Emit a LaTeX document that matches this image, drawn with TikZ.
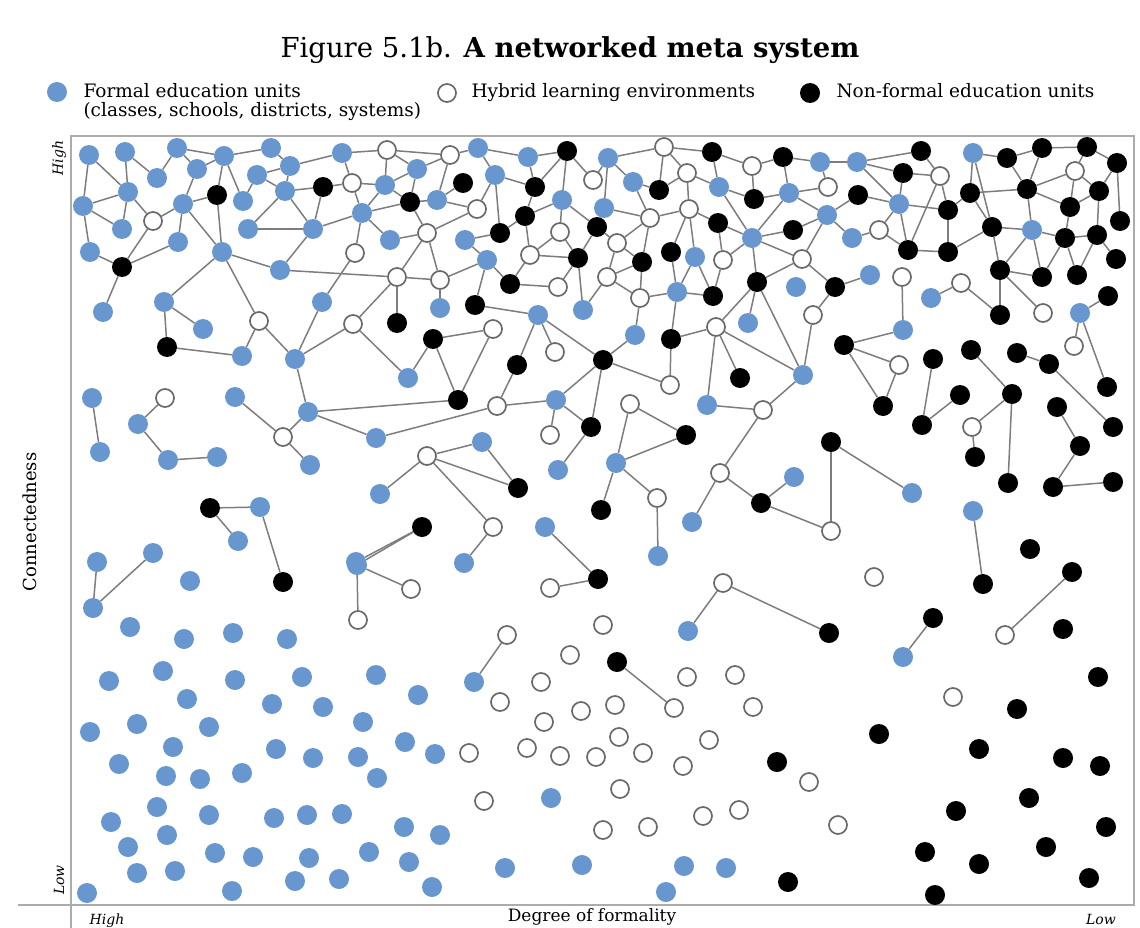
\documentclass[tikz,border=0pt]{standalone}
\usepackage{fontspec}
\setmainfont{DejaVu Serif}
\definecolor{dotblue}{RGB}{104,151,207}
\definecolor{edgegray}{RGB}{125,125,125}
\definecolor{ringgray}{RGB}{105,105,105}
\definecolor{framegray}{RGB}{172,172,172}
\begin{document}
\begin{tikzpicture}[x=1pt,y=-1pt,
  bdot/.style={circle,fill=dotblue,minimum size=20pt,inner sep=0pt},
  kdot/.style={circle,fill=black,minimum size=20pt,inner sep=0pt},
  odot/.style={circle,draw=ringgray,line width=1.7pt,fill=white,minimum size=18pt,inner sep=0pt},
  link/.style={draw=edgegray,line width=1.5pt},
  frame/.style={draw=framegray,line width=1.6pt},
  lgtext/.style={anchor=base west,font=\fontsize{18.5}{21}\selectfont},
  axlab/.style={font=\fontsize{14}{16}\selectfont\itshape}]
\useasboundingbox (0,0) rectangle (1140,928);
% frame
\coordinate (tl) at (70,136);
\coordinate (tr) at (1134,136);
\coordinate (br) at (1134,905);
\coordinate (bl) at (18,905);
\coordinate (lb) at (71,935);
\draw[frame] (tl) -- (tr) -- (br) -- (bl);
\draw[frame] (71,136) -- (lb);
% title and legend
\node[anchor=base] (title) at (570,58) {\fontsize{27.5}{32}\selectfont Figure 5.1b. \textbf{A networked meta system}};
\node[bdot] (lgB) at (57,92) {};
\node[lgtext] (lgBt) at (80,98) {Formal education units};
\node[lgtext] (lgBt2) at (80,117) {(classes, schools, districts, systems)};
\node[odot] (lgO) at (447,93) {};
\node[lgtext] (lgOt) at (468,98) {Hybrid learning environments};
\node[kdot] (lgK) at (810,93) {};
\node[lgtext] (lgKt) at (833,98) {Non-formal education units};
% axis labels
\node[axlab,rotate=90] (yhigh) at (59,158) {High};
\node[axlab,rotate=90] (ylow) at (59,880) {Low};
\node[rotate=90,font=\fontsize{18}{20}\selectfont] (ylab) at (30,522) {Connectedness};
\node[axlab,anchor=base] (xhigh) at (107,924) {High};
\node[axlab,anchor=base] (xlow) at (1101,924) {Low};
\node[anchor=base,font=\fontsize{17}{20}\selectfont] (xlab) at (592,921) {Degree of formality};
% blue nodes
\foreach \x/\y in {89/155,125/152,177/148,224/156,271/148,342/153,197/169,157/178,128/192,257/175,290/166,83/206,183/204,243/201,285/191,122/229,178/242,248/229,313/229,90/252,222/252,280/270,103/312,164/302,203/329,322/302,
478/148,528/157,385/185,417/169,495/175,437/200,562/200,362/213,390/240,465/240,487/260,440/308,538/315,583/310,
608/158,820/162,857/162,633/182,719/187,789/193,604/208,827/215,752/238,852/238,695/257,677/292,796/287,748/323,635/335,
973/153,899/204,1032/230,870/275,931/298,1080/313,903/330,
242/356,295/359,92/398,235/397,138/424,308/412,100/452,168/460,217/457,310/465,260/507,238/541,153/553,97/562,93/608,
408/378,556/400,376/438,482/442,380/494,558/470,545/527,356/562,464/563,
707/405,803/375,616/463,794/477,692/522,658/556,912/493,973/511,
190/581,357/565,130/627,184/639,233/633,287/639,163/671,109/681,235/680,302/677,376/675,187/699,272/704,323/707,418/695,90/732,137/724,209/727,363/722,173/747,405/742,119/764,166/776,200/779,242/773,276/749,313/758,358/757,377/778,435/754,157/807,209/815,274/818,307/815,342/814,111/822,167/835,404/827,440/835,128/847,215/853,253/857,309/858,369/852,137/873,175/871,295/881,339/879,409/862,432/887,87/893,232/891,
474/682,688/631,551/798,505/868,582/865,684/866,726/868,666/892,903/657}
  \node[bdot] (n\x x\y) at (\x,\y) {};
% black nodes
\foreach \x/\y in {217/195,323/187,122/267,463/183,567/151,535/187,410/202,525/216,500/233,597/227,578/258,510/284,475/305,397/323,
659/190,712/152,783/157,754/199,858/195,718/223,793/230,671/252,642/262,713/296,757/282,835/287,
921/151,1007/158,1042/148,1087/147,1117/163,903/173,970/193,1027/189,1099/191,948/210,1070/207,1120/221,992/227,1065/238,1097/235,908/250,948/252,1116/259,1000/270,1042/277,1077/275,1108/296,1000/315,
167/347,433/339,517/365,458/400,591/427,518/488,601/510,422/527,210/508,283/582,
671/339,603/360,740/378,844/345,686/435,831/442,761/503,
883/406,933/359,922/425,960/395,971/350,1012/394,975/457,1008/483,1017/353,1049/364,1107/387,1057/407,1113/427,1080/446,1053/487,1113/482,1030/549,1072/572,
983/584,829/633,933/618,1063/629,1098/677,1017/709,879/734,777/762,979/749,1063/758,1100/766,1029/798,956/811,1106/827,1046/847,925/852,979/864,1089/878,788/882,935/895,
598/579,617/662}
  \node[kdot] (n\x x\y) at (\x,\y) {};
% open nodes
\foreach \x/\y in {153/221,259/321,
387/150,450/155,352/183,593/180,477/209,427/233,560/232,355/253,397/277,440/280,530/255,558/287,353/324,493/329,
664/147,752/166,687/173,828/187,650/218,689/209,617/243,723/260,802/259,607/277,640/298,813/315,716/327,
940/176,1075/171,879/230,902/277,961/283,1043/313,
555/352,497/406,550/435,427/456,493/527,165/398,283/437,411/589,358/620,
670/385,630/404,763/410,720/473,657/498,831/531,
899/365,972/427,1074/346,
550/588,723/583,603/625,507/635,570/655,541/682,687/677,735/675,500/702,581/711,615/705,674/708,753/707,544/722,619/737,709/740,469/753,527/748,560/756,596/757,643/753,683/766,620/789,484/801,703/816,739/810,603/830,648/827,
874/577,1005/635,953/697,809/782,838/825}
  \node[odot] (n\x x\y) at (\x,\y) {};
% links
\foreach \a/\b in {89x155/83x206,89x155/128x192,125x152/128x192,125x152/157x178,128x192/83x206,128x192/122x229,128x192/153x221,83x206/122x229,83x206/90x252,90x252/122x267,122x267/153x221,122x267/178x242,122x267/103x312,153x221/183x204,183x204/178x242,183x204/197x169,183x204/217x195,157x178/177x148,177x148/224x156,177x148/197x169,197x169/224x156,224x156/217x195,224x156/243x201,224x156/271x148,217x195/222x252,183x204/222x252,222x252/164x302,222x252/259x321,222x252/280x270,271x148/290x166,257x175/243x201,257x175/290x166,257x175/285x191,290x166/342x153,290x166/285x191,285x191/323x187,285x191/248x229,285x191/313x229,248x229/313x229,323x187/313x229,313x229/280x270,313x229/362x213,280x270/397x277,164x302/203x329,164x302/167x347,322x302/295x359,322x302/355x253,259x321/242x356,259x321/295x359,167x347/242x356,295x359/353x324,295x359/308x412}
  \draw[link] (n\a) -- (n\b);
\foreach \a/\b in {342x153/387x150,387x150/450x155,450x155/478x148,478x148/528x157,528x157/567x151,342x153/352x183,323x187/352x183,387x150/385x185,387x150/417x169,417x169/450x155,450x155/437x200,352x183/385x185,352x183/362x213,385x185/417x169,385x185/410x202,385x185/362x213,417x169/410x202,410x202/437x200,437x200/477x209,437x200/463x183,478x148/495x175,495x175/477x209,495x175/500x233,495x175/535x187,528x157/535x187,567x151/535x187,567x151/562x200,567x151/593x180,535x187/525x216,525x216/562x200,525x216/500x233,525x216/530x255,562x200/560x232,562x200/597x227,560x232/530x255,560x232/578x258,362x213/390x240,362x213/410x202,362x213/355x253,410x202/427x233,390x240/427x233,427x233/477x209,427x233/397x277,427x233/440x280,465x240/500x233,465x240/487x260,487x260/510x284,487x260/440x280,487x260/475x305,530x255/510x284,530x255/578x258,397x277/440x280,397x277/397x323,397x277/353x324,440x280/440x308,475x305/538x315,558x287/578x258,578x258/583x310,510x284/558x287,593x180/608x158}
  \draw[link] (n\a) -- (n\b);
\foreach \a/\b in {608x158/664x147,608x158/633x182,608x158/604x208,664x147/687x173,664x147/712x152,664x147/659x190,712x152/719x187,712x152/752x166,752x166/754x199,752x166/783x157,783x157/820x162,783x157/789x193,820x162/828x187,820x162/857x162,633x182/659x190,633x182/650x218,659x190/687x173,687x173/719x187,687x173/689x209,719x187/754x199,719x187/752x238,754x199/789x193,789x193/828x187,789x193/827x215,789x193/752x238,827x215/858x195,827x215/852x238,827x215/802x259,827x215/793x230,604x208/650x218,604x208/597x227,650x218/689x209,650x218/617x243,650x218/642x262,689x209/718x223,689x209/671x252,689x209/695x257,718x223/752x238,718x223/723x260,752x238/793x230,752x238/723x260,752x238/757x282,752x238/802x259,617x243/597x227,617x243/607x277,617x243/642x262,642x262/607x277,642x262/640x298,671x252/677x292,695x257/677x292,695x257/713x296,723x260/713x296,757x282/802x259,757x282/748x323,757x282/716x327,757x282/803x375,802x259/835x287,835x287/813x315,607x277/640x298,607x277/583x310,640x298/677x292,640x298/635x335,677x292/671x339,677x292/713x296,870x275/835x287,597x227/578x258}
  \draw[link] (n\a) -- (n\b);
\foreach \a/\b in {857x162/921x151,857x162/903x173,857x162/899x204,921x151/940x176,903x173/940x176,903x173/899x204,940x176/948x210,940x176/908x250,973x153/1007x158,973x153/970x193,973x153/992x227,1007x158/1042x148,1007x158/1027x189,1042x148/1087x147,1042x148/1027x189,1087x147/1117x163,1087x147/1075x171,1117x163/1099x191,1117x163/1120x221,1075x171/1027x189,1075x171/1099x191,1075x171/1070x207,858x195/899x204,899x204/948x210,899x204/879x230,899x204/908x250,948x210/970x193,948x210/948x252,970x193/1027x189,970x193/992x227,992x227/1032x230,992x227/948x252,992x227/1000x270,1027x189/1032x230,1027x189/1070x207,1070x207/1099x191,1070x207/1065x238,1099x191/1097x235,1032x230/1065x238,1032x230/1000x270,1032x230/1042x277,1065x238/1097x235,1065x238/1077x275,1065x238/1042x277,1097x235/1116x259,1097x235/1077x275,879x230/852x238,879x230/908x250,908x250/948x252,1000x270/1042x277,1000x270/1000x315,1000x270/1043x313,961x283/931x298,961x283/1000x315,1108x296/1080x313,1080x313/1074x346,1080x313/1107x387,902x277/903x330,903x330/844x345}
  \draw[link] (n\a) -- (n\b);
\foreach \a/\b in {844x345/899x365,844x345/883x406,899x365/883x406,933x359/922x425,922x425/960x395,971x350/1012x394,1012x394/972x427,972x427/975x457,1012x394/1008x483,1017x353/1049x364,1049x364/1113x427,1057x407/1080x446,1080x446/1053x487,1053x487/1113x482,831x442/912x493,973x511/983x584,
92x398/100x452,165x398/138x424,138x424/168x460,168x460/217x457,235x397/283x437,283x437/308x412,283x437/310x465,308x412/458x400,308x412/376x438,210x508/260x507,210x508/238x541,260x507/283x582,97x562/93x608,93x608/153x553,
353x324/408x378,433x339/493x329,433x339/408x378,433x339/458x400,493x329/458x400,497x406/376x438,497x406/517x365,517x365/538x315,538x315/555x352,538x315/603x360,497x406/556x400,556x400/550x435,556x400/591x427,556x400/603x360,591x427/558x470,427x456/482x442,427x456/518x488,482x442/518x488,427x456/380x494,427x456/493x527,493x527/464x563,422x527/356x562,545x527/598x579,
635x335/603x360,671x339/716x327,671x339/670x385,603x360/670x385,603x360/591x427,716x327/707x405,716x327/740x378,716x327/803x375,803x375/813x315,803x375/763x410,763x410/707x405,763x410/720x473,720x473/692x522,720x473/761x503,761x503/794x477,761x503/831x531,831x531/831x442,630x404/686x435,630x404/616x463,686x435/616x463,616x463/601x510,616x463/657x498,657x498/658x556,
357x565/411x589,357x565/358x620,357x565/422x527,550x588/598x579,723x583/688x631,723x583/829x633,507x635/474x682,617x662/674x708,1072x572/1005x635,933x618/903x657}
  \draw[link] (n\a) -- (n\b);
\end{tikzpicture}
\end{document}
